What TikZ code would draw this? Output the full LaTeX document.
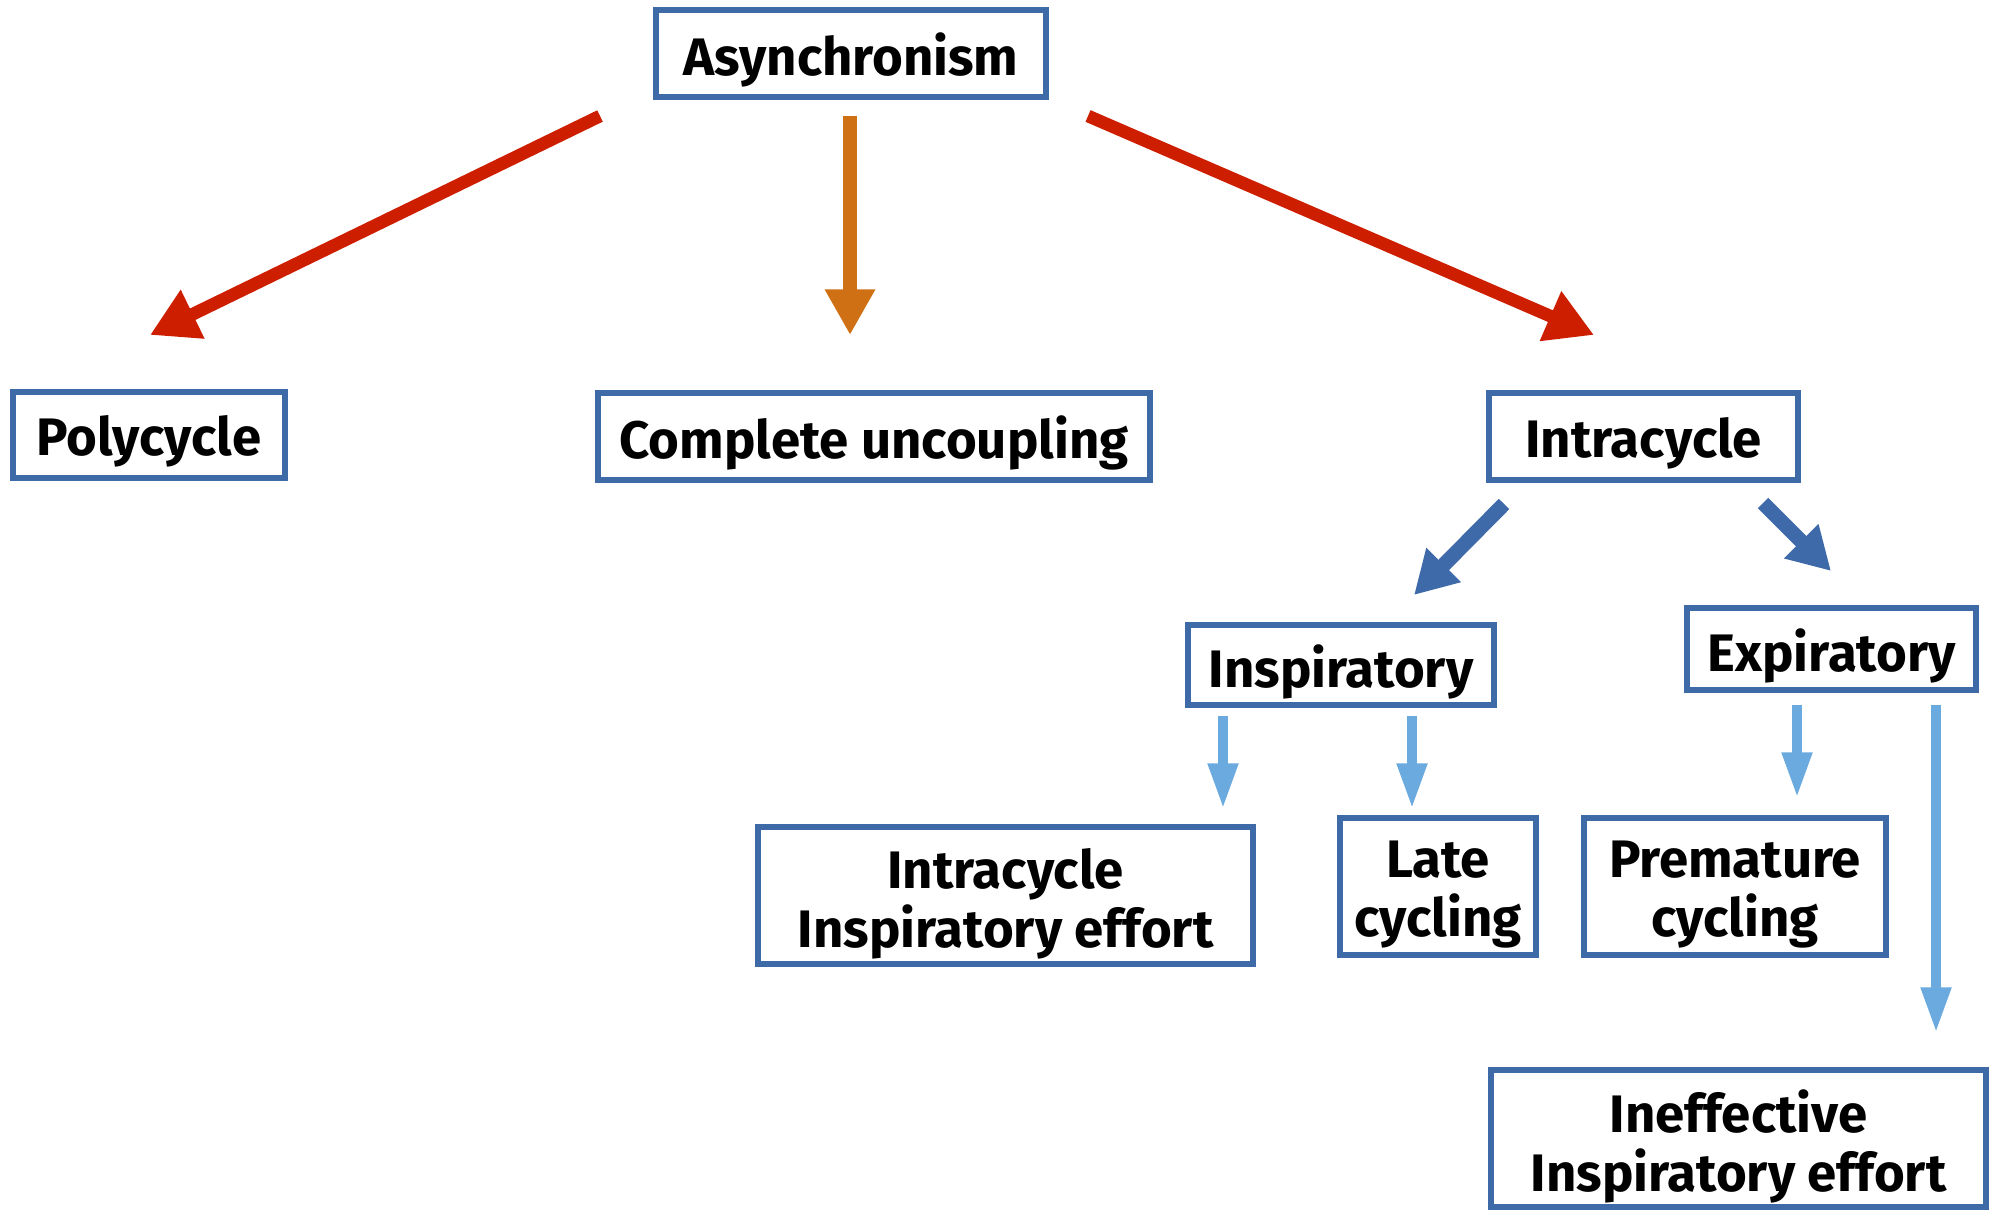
\documentclass[tikz,border=0pt]{standalone}
\usepackage{fontspec}
\setmainfont{Fira Sans}
\usetikzlibrary{arrows.meta}
\definecolor{boxblue}{RGB}{62,106,168}
\definecolor{redarr}{RGB}{206,30,0}
\definecolor{orarr}{RGB}{208,112,21}
\definecolor{dblue}{RGB}{62,106,170}
\definecolor{lblue}{RGB}{106,170,222}
\newcommand\boxtxt[2][-2.5pt]{\vphantom{\begin{tabular}{@{}c@{}}#2\end{tabular}}\raisebox{#1}[0pt][0pt]{\begin{tabular}{@{}c@{}}#2\end{tabular}}}
\tikzset{
  cbox/.style={draw=boxblue, line width=1.8pt, fill=white, inner sep=0pt, align=center,
    font=\fontsize{15}{15.2}\selectfont\bfseries},
  redarrow/.style={draw=redarr, line width=3.6pt, -{Triangle[length=13.5pt,width=14.5pt]}},
  orarrow/.style={draw=orarr, line width=4pt, -{Triangle[length=13pt,width=13.5pt]}},
  bluearrow/.style={draw=dblue, line width=4.2pt, -{Triangle[length=12pt,width=13pt]}},
  lbarrow/.style={draw=lblue, line width=2.9pt, -{Triangle[length=13pt,width=8pt]}}
}
\begin{document}
\begin{tikzpicture}[x={(0.01cm,0)}, y={(0,-0.01cm)}]
\useasboundingbox (0,0) rectangle (1995,1210);
% boxes
\node[cbox, minimum width=3.9cm, minimum height=0.87cm] (asyn) at (851,53.5) {\boxtxt{Asynchronism}};
\node[cbox, minimum width=2.72cm, minimum height=0.86cm] (poly) at (149,435) {\boxtxt{Polycycle}};
\node[cbox, minimum width=5.52cm, minimum height=0.87cm] (cu) at (874,436.5) {\boxtxt{Complete uncoupling}};
\node[cbox, minimum width=3.09cm, minimum height=0.87cm] (intra) at (1643.5,436.5) {\boxtxt{Intracycle}};
\node[cbox, minimum width=3.06cm, minimum height=0.80cm] (insp) at (1341,665) {\boxtxt{Inspiratory}};
\node[cbox, minimum width=2.89cm, minimum height=0.82cm] (exp) at (1831.5,649) {\boxtxt{Expiratory}};
\node[cbox, minimum width=4.95cm, minimum height=1.37cm] (iie) at (1005.5,895.5) {\boxtxt[-2.9pt]{Intracycle\\Inspiratory effort}};
\node[cbox, minimum width=1.96cm, minimum height=1.37cm] (late) at (1438,886.5) {\boxtxt[-2.9pt]{Late\\cycling}};
\node[cbox, minimum width=3.02cm, minimum height=1.37cm] (prem) at (1735,886.5) {\boxtxt[-2.9pt]{Premature\\cycling}};
\node[cbox, minimum width=4.95cm, minimum height=1.37cm] (ineff) at (1738.5,1138.5) {\boxtxt[-2.9pt]{Ineffective\\Inspiratory effort}};
% connector end points
\coordinate (a1s) at (600,116);  \coordinate (a1e) at (150,335);
\coordinate (a2s) at (850,116);  \coordinate (a2e) at (850,335);
\coordinate (a3s) at (1088,116); \coordinate (a3e) at (1594,335);
\coordinate (b1s) at (1504,504); \coordinate (b1e) at (1414,595);
\coordinate (b2s) at (1763,503); \coordinate (b2e) at (1831,571);
\coordinate (c1s) at (1223,716); \coordinate (c1e) at (1223,809);
\coordinate (c2s) at (1412,716); \coordinate (c2e) at (1412,809);
\coordinate (c3s) at (1797,705); \coordinate (c3e) at (1797,798);
\coordinate (c4s) at (1936,705); \coordinate (c4e) at (1936,1033);
% connectors
\draw[redarrow] (a1s) -- (a1e);
\draw[orarrow] (a2s) -- (a2e);
\draw[redarrow] (a3s) -- (a3e);
\draw[bluearrow] (b1s) -- (b1e);
\draw[bluearrow] (b2s) -- (b2e);
\draw[lbarrow] (c1s) -- (c1e);
\draw[lbarrow] (c2s) -- (c2e);
\draw[lbarrow] (c3s) -- (c3e);
\draw[lbarrow] (c4s) -- (c4e);
\end{tikzpicture}
\end{document}
